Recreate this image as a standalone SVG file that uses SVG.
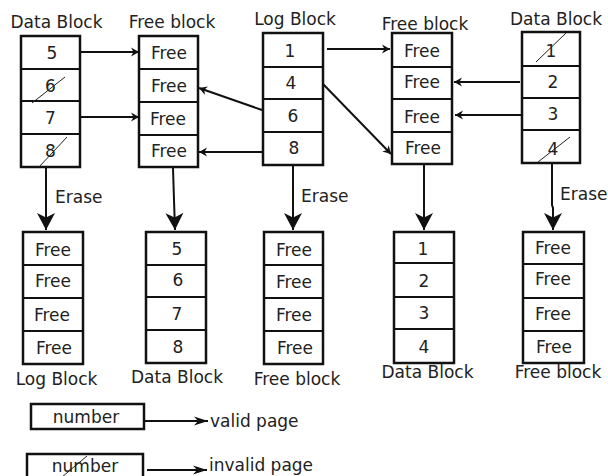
<svg xmlns="http://www.w3.org/2000/svg" width="608" height="476" viewBox="0 0 608 476">
  <defs>
    <style>
      text { font-family: "DejaVu Sans", "Liberation Sans", sans-serif; font-size: 17px; fill: #222; }
      .c { text-anchor: middle; }
      .box { fill: #fff; stroke: #111; stroke-width: 2.5; }
      .sep { stroke: #111; stroke-width: 2.2; }
      .wire { fill: none; stroke: #111; stroke-width: 2; }
      .slash { stroke: #222; stroke-width: 1; }
    </style>
    <marker id="headS" markerUnits="userSpaceOnUse" markerWidth="12" markerHeight="12" refX="10" refY="6" orient="auto" overflow="visible">
      <path d="M10,6 L2,1.5 L4.5,6 L2,10.5 Z" fill="#111"/>
    </marker>
    <marker id="headL" markerUnits="userSpaceOnUse" markerWidth="20" markerHeight="20" refX="17" refY="9" orient="auto" overflow="visible">
      <path d="M17,9 L0,0 L4.5,9 L0,18 Z" fill="#111"/>
    </marker>
    <marker id="headM" markerUnits="userSpaceOnUse" markerWidth="16" markerHeight="12" refX="14" refY="6" orient="auto" overflow="visible">
      <path d="M14,6 L0,1.5 L4,6 L0,10.5 Z" fill="#111"/>
    </marker>
  </defs>

  <rect width="608" height="476" fill="#fff"/>

  <!-- top row -->
  <g id="data-block-a">
    <text class="c" x="56.5" y="28">Data Block</text>
    <rect class="box" x="21" y="36" width="59" height="131"/>
    <line class="sep" x1="21" y1="69" x2="80" y2="69"/>
    <line class="sep" x1="21" y1="101" x2="80" y2="101"/>
    <line class="sep" x1="21" y1="134" x2="80" y2="134"/>
    <text class="c" x="52" y="59">5</text>
    <text class="c" x="50.5" y="91.5">6</text>
    <text class="c" x="50.5" y="124">7</text>
    <text class="c" x="50.5" y="156.5">8</text>
    <line class="slash" x1="32" y1="103" x2="65" y2="77"/>
    <line class="slash" x1="39" y1="167" x2="67" y2="137"/>
  </g>

  <g id="free-block-a">
    <text class="c" x="172" y="28">Free block</text>
    <rect class="box" x="139" y="36" width="59" height="131"/>
    <line class="sep" x1="139" y1="69" x2="198" y2="69"/>
    <line class="sep" x1="139" y1="102" x2="198" y2="102"/>
    <line class="sep" x1="139" y1="135" x2="198" y2="135"/>
    <text class="c" x="169" y="59">Free</text>
    <text class="c" x="169" y="91.5">Free</text>
    <text class="c" x="168" y="124.5">Free</text>
    <text class="c" x="169" y="157">Free</text>
  </g>

  <g id="log-block-a">
    <text class="c" x="295" y="25">Log Block</text>
    <rect class="box" x="263" y="33" width="60" height="132"/>
    <line class="sep" x1="263" y1="67" x2="323" y2="67"/>
    <line class="sep" x1="263" y1="99" x2="323" y2="99"/>
    <line class="sep" x1="263" y1="132" x2="323" y2="132"/>
    <text class="c" x="290" y="56.5">1</text>
    <text class="c" x="291" y="88.5">4</text>
    <text class="c" x="293" y="121.5">6</text>
    <text class="c" x="294" y="154">8</text>
  </g>

  <g id="free-block-b">
    <text class="c" x="425" y="30">Free block</text>
    <rect class="box" x="392" y="33" width="60" height="131"/>
    <line class="sep" x1="392" y1="67" x2="452" y2="67"/>
    <line class="sep" x1="392" y1="99" x2="452" y2="99"/>
    <line class="sep" x1="392" y1="132" x2="452" y2="132"/>
    <text class="c" x="422" y="56.5">Free</text>
    <text class="c" x="422" y="87.5">Free</text>
    <text class="c" x="422" y="122.5">Free</text>
    <text class="c" x="423" y="153.5">Free</text>
  </g>

  <g id="data-block-b">
    <text class="c" x="556" y="25">Data Block</text>
    <rect class="box" x="522" y="32" width="58" height="131"/>
    <line class="sep" x1="522" y1="66" x2="580" y2="66"/>
    <line class="sep" x1="522" y1="98" x2="580" y2="98"/>
    <line class="sep" x1="522" y1="130" x2="580" y2="130"/>
    <text class="c" x="551" y="56.5">1</text>
    <text class="c" x="553" y="87.5">2</text>
    <text class="c" x="553" y="119.5">3</text>
    <text class="c" x="553" y="154.5">4</text>
    <line class="slash" x1="536" y1="62" x2="566" y2="33"/>
    <line class="slash" x1="538" y1="162" x2="570" y2="137"/>
  </g>

  <!-- bottom row -->
  <g id="log-block-b">
    <rect class="box" x="23" y="232" width="60" height="132"/>
    <line class="sep" x1="23" y1="265" x2="83" y2="265"/>
    <line class="sep" x1="23" y1="298" x2="83" y2="298"/>
    <line class="sep" x1="23" y1="331" x2="83" y2="331"/>
    <text class="c" x="53" y="255.5">Free</text>
    <text class="c" x="53" y="286.5">Free</text>
    <text class="c" x="52" y="320.5">Free</text>
    <text class="c" x="54" y="353.5">Free</text>
    <text class="c" x="56.5" y="385">Log Block</text>
  </g>

  <g id="data-block-c">
    <rect class="box" x="146" y="232" width="60" height="131"/>
    <line class="sep" x1="146" y1="265" x2="206" y2="265"/>
    <line class="sep" x1="146" y1="297" x2="206" y2="297"/>
    <line class="sep" x1="146" y1="330" x2="206" y2="330"/>
    <text class="c" x="177" y="254.5">5</text>
    <text class="c" x="178" y="285.5">6</text>
    <text class="c" x="177" y="319.5">7</text>
    <text class="c" x="178" y="352.5">8</text>
    <text class="c" x="177" y="383">Data Block</text>
  </g>

  <g id="free-block-c">
    <rect class="box" x="264" y="232" width="59" height="132"/>
    <line class="sep" x1="264" y1="265" x2="323" y2="265"/>
    <line class="sep" x1="264" y1="298" x2="323" y2="298"/>
    <line class="sep" x1="264" y1="331" x2="323" y2="331"/>
    <text class="c" x="294" y="255.5">Free</text>
    <text class="c" x="294" y="287.5">Free</text>
    <text class="c" x="294" y="320.5">Free</text>
    <text class="c" x="295" y="353.5">Free</text>
    <text class="c" x="297" y="385">Free block</text>
  </g>

  <g id="data-block-d">
    <rect class="box" x="394" y="232" width="60" height="131"/>
    <line class="sep" x1="394" y1="263" x2="454" y2="263"/>
    <line class="sep" x1="394" y1="297" x2="454" y2="297"/>
    <line class="sep" x1="394" y1="329" x2="454" y2="329"/>
    <text class="c" x="423" y="254.5">1</text>
    <text class="c" x="424" y="286.5">2</text>
    <text class="c" x="424" y="318.5">3</text>
    <text class="c" x="424" y="352.5">4</text>
    <text class="c" x="427.5" y="378">Data Block</text>
  </g>

  <g id="free-block-d">
    <rect class="box" x="523" y="232" width="61" height="131"/>
    <line class="sep" x1="523" y1="264" x2="584" y2="264"/>
    <line class="sep" x1="523" y1="298" x2="584" y2="298"/>
    <line class="sep" x1="523" y1="331" x2="584" y2="331"/>
    <text class="c" x="553" y="253.5">Free</text>
    <text class="c" x="553" y="284.5">Free</text>
    <text class="c" x="553" y="319.5">Free</text>
    <text class="c" x="554" y="352.5">Free</text>
    <text class="c" x="558" y="378">Free block</text>
  </g>

  <!-- connectors -->
  <g id="connectors">
    <path class="wire" marker-end="url(#headS)" d="M80,52 L139,52"/>
    <path class="wire" marker-end="url(#headS)" d="M80,117 L139,117"/>
    <path class="wire" marker-end="url(#headS)" d="M262,110 L199,88"/>
    <path class="wire" marker-end="url(#headS)" d="M262,152 L199,152"/>
    <path class="wire" marker-end="url(#headS)" d="M327,49 L390,49"/>
    <path class="wire" marker-end="url(#headS)" d="M323,84 L391,154"/>
    <path class="wire" marker-end="url(#headS)" d="M520,82 L454,82"/>
    <path class="wire" marker-end="url(#headS)" d="M521,115 L455,115"/>

    <path class="wire" marker-end="url(#headL)" d="M46,168 L46,230"/>
    <path class="wire" marker-end="url(#headL)" d="M173,168 L174,200 L175,230"/>
    <path class="wire" marker-end="url(#headL)" d="M293,166 L293,230"/>
    <path class="wire" marker-end="url(#headL)" d="M424,165 L424,230"/>
    <path class="wire" marker-end="url(#headL)" d="M552,164 L552,205 L553,208 L553,230"/>

    <text x="55" y="203">Erase</text>
    <text x="301" y="202">Erase</text>
    <text x="560" y="200">Erase</text>
  </g>

  <!-- key -->
  <g id="key-valid">
    <rect class="box" x="31" y="404" width="113" height="25" stroke-width="2.2"/>
    <text class="c" x="86" y="423">number</text>
    <path class="wire" marker-end="url(#headM)" d="M144,421 L208,421"/>
    <text x="210" y="427">valid page</text>
  </g>
  <g id="key-invalid">
    <rect class="box" x="27" y="454" width="116" height="30" stroke-width="2.2"/>
    <text class="c" x="85" y="472">number</text>
    <line class="slash" x1="62" y1="477" x2="87" y2="456" stroke-width="1.3"/>
    <path class="wire" marker-end="url(#headM)" d="M147,470 L207,470"/>
    <text x="209" y="471">invalid page</text>
  </g>
</svg>
